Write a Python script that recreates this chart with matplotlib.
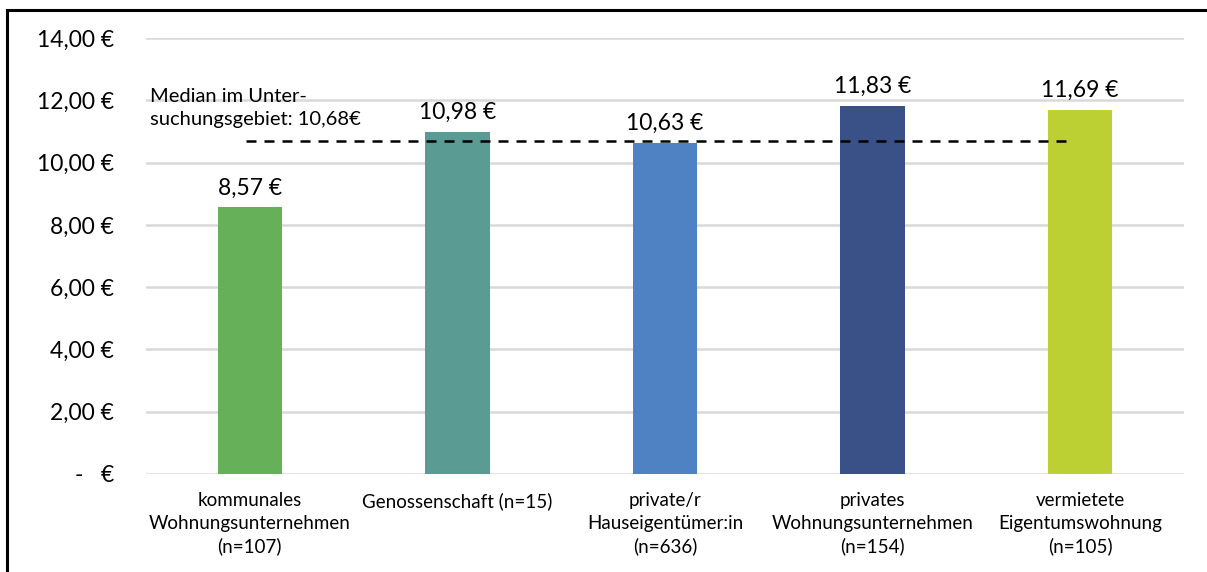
import matplotlib.pyplot as plt
from matplotlib.patches import Rectangle

plt.rcParams["font.family"] = ["Lato", "DejaVu Sans"]

categories = [
    "kommunales\nWohnungsunternehmen\n(n=107)",
    "Genossenschaft (n=15)",
    "private/r\nHauseigentümer:in\n(n=636)",
    "privates\nWohnungsunternehmen\n(n=154)",
    "vermietete\nEigentumswohnung\n(n=105)",
]
values = [8.57, 10.98, 10.63, 11.83, 11.69]
median = 10.68
colors = ["#66b05a", "#5a9b93", "#4e82c2", "#3a5188", "#bdd033"]
yticks = [0, 2, 4, 6, 8, 10, 12, 14]


def euro(v):
    return f"{v:.2f} €".replace(".", ",")


fig = plt.figure(figsize=(12.07, 5.72), dpi=100)
ax = fig.add_axes([146 / 1207, 1 - 474 / 572, (1184 - 146) / 1207, (474 - 38) / 572])

x = list(range(len(values)))
ax.bar(x, values, width=0.31, color=colors, zorder=3)
for xi, v in zip(x, values):
    ax.text(xi, v + 0.28, euro(v), ha="center", va="bottom", fontsize=16.5)

ax.plot([-0.02, 3.97], [median, median], color="black", linestyle=(0, (4, 3.2)),
        linewidth=1.8, zorder=4)
ax.text(-0.48, 11.1, "Median im Unter-\nsuchungsgebiet: 10,68€", fontsize=14.5,
        ha="left", va="bottom", linespacing=1.45)

ax.set_xlim(-0.5, 4.5)
ax.set_ylim(0, 14)
ax.set_yticks(yticks)
ax.set_yticklabels(["-   €" if t == 0 else euro(t) for t in yticks], fontsize=16.5)
ax.set_xticks(x)
ax.set_xticklabels(categories, fontsize=13.5, linespacing=1.4, va="top")
ax.tick_params(axis="y", length=0, pad=23)
ax.tick_params(axis="x", length=0, pad=13)
ax.grid(axis="y", color="#d9d9d9", linewidth=1.8, zorder=0)
for s in ax.spines.values():
    s.set_visible(False)

fig.patches.append(Rectangle((7 / 1207, -0.1), 1.2, 1 - 10 / 572 + 0.1,
                             transform=fig.transFigure, fill=False,
                             edgecolor="black", linewidth=2.2))

fig.savefig("out.png", dpi=100)
